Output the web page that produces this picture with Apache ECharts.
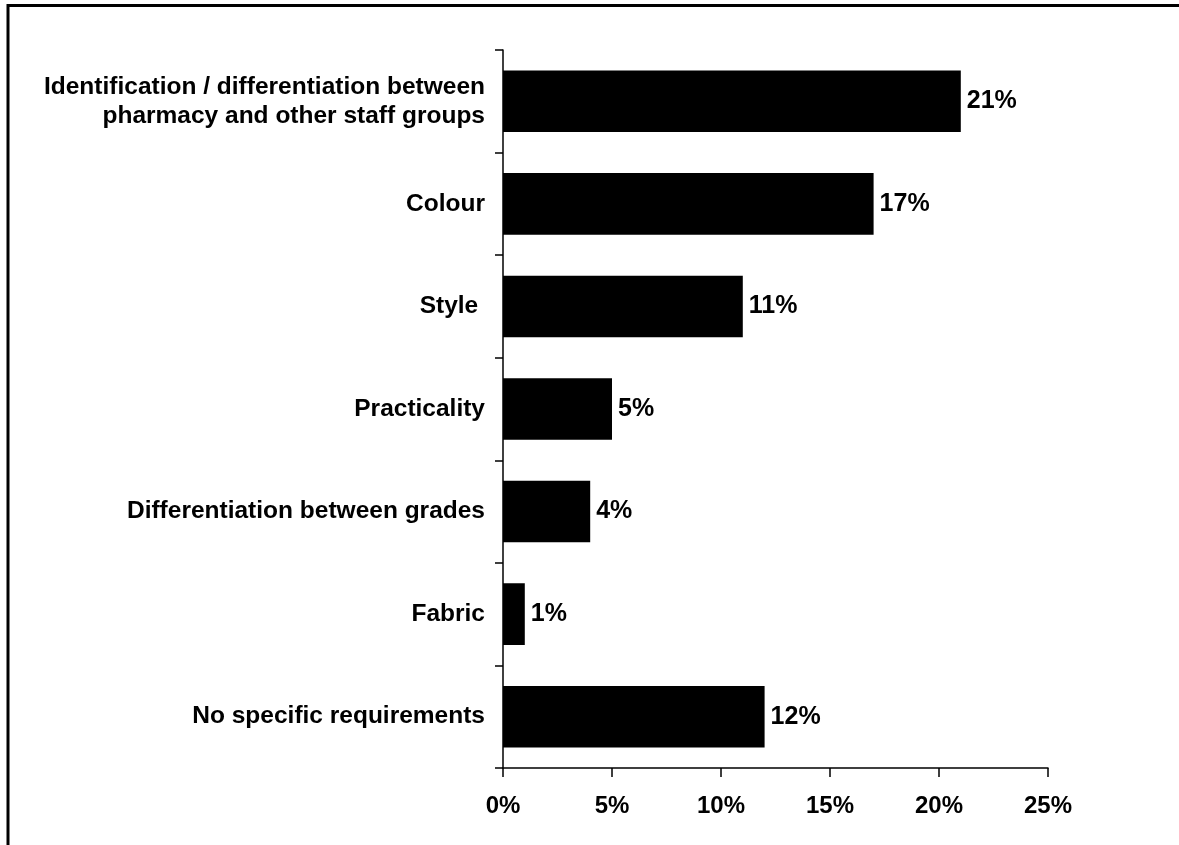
<!DOCTYPE html>
<html>
<head>
<meta charset="utf-8">
<script src="https://cdn.jsdelivr.net/npm/echarts@6/dist/echarts.min.js"></script>
<style>
  html, body { margin: 0; padding: 0; background: #ffffff; }
  #chart { width: 1179px; height: 845px; }
</style>
</head>
<body>
<div id="chart"></div>
<script>
// Requirements for a pharmacy uniform (share of responses)
const categories = [
  'Identification / differentiation between\npharmacy and other staff groups',
  'Colour',
  'Style ',
  'Practicality',
  'Differentiation between grades',
  'Fabric',
  'No specific requirements'
];
const values = [21, 17, 11, 5, 4, 1, 12];
const xTicks = [0, 5, 10, 15, 20, 25];

const FONT = '"Liberation Sans", Arial, sans-serif';

const chart = echarts.init(document.getElementById('chart'), null, { renderer: 'canvas' });
chart.setOption({
  animation: false,
  backgroundColor: '#ffffff',
  grid: { left: 503, right: 131, top: 50, bottom: 77, containLabel: false },
  graphic: [{
    type: 'rect',
    shape: { x: 8, y: 5.5, width: 1250, height: 900 },
    style: { fill: 'none', stroke: '#000', lineWidth: 3 },
    silent: true
  }],
  xAxis: {
    type: 'value',
    min: xTicks[0],
    max: xTicks[xTicks.length - 1],
    interval: 5,
    axisLine: { show: true, lineStyle: { color: '#000', width: 1.5 } },
    axisTick: { show: true, length: 9, lineStyle: { color: '#000', width: 1.5 } },
    splitLine: { show: false },
    axisLabel: {
      margin: 26,
      color: '#000',
      fontFamily: FONT,
      fontWeight: 'bold',
      fontSize: 24,
      formatter: v => v + '%'
    }
  },
  yAxis: {
    type: 'category',
    data: categories,
    inverse: true,
    axisLine: { show: true, lineStyle: { color: '#000', width: 1.5 } },
    axisTick: { show: true, length: 8, lineStyle: { color: '#000', width: 1.5 } },
    axisLabel: {
      margin: 18,
      color: '#000',
      fontFamily: FONT,
      fontWeight: 'bold',
      fontSize: 24.5,
      lineHeight: 29,
      align: 'right'
    }
  },
  series: [{
    type: 'bar',
    data: values,
    barCategoryGap: '40%',
    itemStyle: { color: '#000' },
    label: {
      show: true,
      position: 'right',
      distance: 6,
      color: '#000',
      fontFamily: FONT,
      fontWeight: 'bold',
      fontSize: 25,
      formatter: p => p.value + '%'
    }
  }]
});
</script>
</body>
</html>
